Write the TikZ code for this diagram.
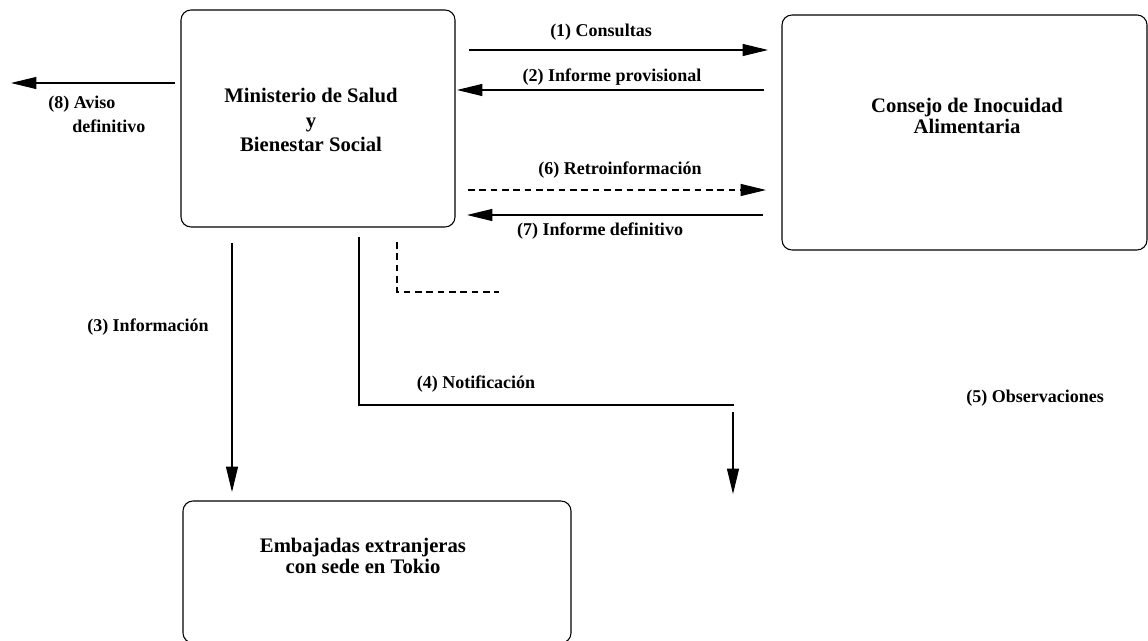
\documentclass[tikz,border=0pt]{standalone}
\usepackage{fontspec}
\setmainfont{Liberation Serif}
\usetikzlibrary{arrows.meta}

\begin{document}
\begin{tikzpicture}[x=0.75pt,y=-0.75pt]
\tikzstyle{every node}+=[inner sep=0pt]
\tikzstyle{caja}=[draw=black, line width=0.8pt, rounded corners=7.5pt]
\tikzstyle{titulo}=[font=\fontsize{15.5}{16}\selectfont\bfseries, align=center]
\tikzstyle{rotulo}=[font=\fontsize{13.5}{18}\selectfont\bfseries]
\tikzstyle{flecha}=[draw=black, line width=0.8pt, -{Triangle[length=19pt,width=9pt]}]
\tikzstyle{linea}=[draw=black, line width=0.8pt]
\tikzstyle{rayas}=[dash pattern=on 5pt off 3.5pt]
\useasboundingbox (0,0) rectangle (1148,641);
% cajas
\draw [caja] (181,10) rectangle (455,227);
\node [titulo, font=\fontsize{15.5}{18.5}\selectfont\bfseries] (ministerio) at (311,120) {Ministerio de Salud\\y\\Bienestar Social};
\draw [caja] (782,15) rectangle (1147,250);
\node [titulo] (consejo) at (967,116) {Consejo de Inocuidad\\Alimentaria};
\draw [caja] (183,501) rectangle (571,643);
\node [titulo] (embajadas) at (363,556) {Embajadas extranjeras\\con sede en Tokio};
% puntos de las flechas
\coordinate (c1a) at (469,50);  \coordinate (c1b) at (768,50);
\coordinate (c2a) at (764,90);  \coordinate (c2b) at (457,90);
\coordinate (c6a) at (468,190); \coordinate (c6b) at (766,190);
\coordinate (c7a) at (763,215); \coordinate (c7b) at (467,215);
\coordinate (c8a) at (175,83);  \coordinate (c8b) at (11,83);
\coordinate (c3a) at (232,243); \coordinate (c3b) at (232,492);
\coordinate (c4a) at (359,237); \coordinate (c4b) at (359,405);
\coordinate (c4c) at (734,405);
\coordinate (c5a) at (733,412); \coordinate (c5b) at (733,494);
\coordinate (d1) at (397,242);  \coordinate (d2) at (397,292);
\coordinate (d3) at (499,292);
% flechas
\draw [flecha] (c1a) -- (c1b);
\draw [flecha] (c2a) -- (c2b);
\draw [flecha, rayas] (c6a) -- (c6b);
\draw [flecha] (c7a) -- (c7b);
\draw [flecha] (c8a) -- (c8b);
\draw [flecha] (c3a) -- (c3b);
\draw [linea] (c4a) -- (c4b) -- (c4c);
\draw [flecha] (c5a) -- (c5b);
\draw [linea, rayas] (d1) -- (d2) -- (d3);
% rotulos
\node [rotulo] (consultas) at (601,32) {(1) Consultas};
\node [rotulo] (provisional) at (612,77) {(2) Informe provisional};
\node [rotulo] (retro) at (620,170) {(6) Retroinformación};
\node [rotulo] (definitivo) at (600,231) {(7) Informe definitivo};
\node [rotulo] (informacion) at (148,327) {(3) Información};
\node [rotulo] (notificacion) at (476,384) {(4) Notificación};
\node [rotulo] (observaciones) at (1035,398) {(5) Observaciones};
\node [rotulo, align=left, anchor=west] (aviso) at (48,114) {(8) Aviso\\\hspace*{18pt}definitivo};
\end{tikzpicture}
\end{document}
